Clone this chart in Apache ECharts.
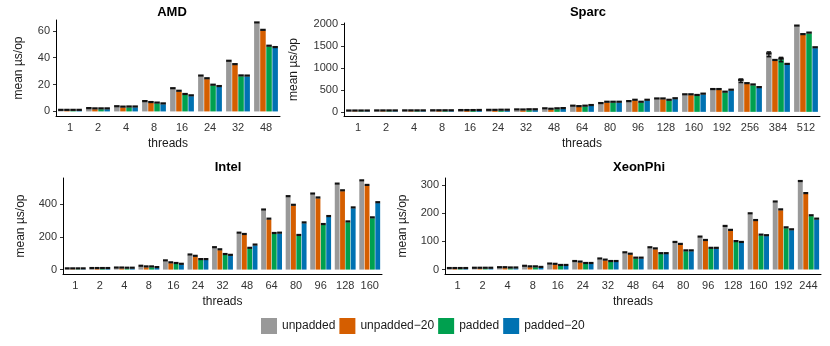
<!DOCTYPE html>
<html>
<head>
<meta charset="utf-8">
<title>Padding benchmark</title>
<script src="https://cdn.jsdelivr.net/npm/echarts@6/dist/echarts.min.js"></script>
<style>
  html, body { margin: 0; padding: 0; background: #fff; }
  #chart { width: 830px; height: 346px; }
</style>
</head>
<body>
<div id="chart"></div>
<script>
const seriesNames = ['unpadded', 'unpadded\u221220', 'padded', 'padded\u221220'];
const colors = ['#999999', '#D55E00', '#00A04F', '#0072B2'];

// AMD
const amdThreads = ['1', '2', '4', '8', '16', '24', '32', '48'];
const amdUnpadded = [0.5, 1.8, 3.2, 7.0, 16.6, 26.0, 37.0, 65.5];
const amdUnpadded20 = [0.5, 1.6, 2.9, 6.3, 14.7, 24.0, 34.5, 60.0];
const amdPadded = [0.5, 1.6, 3.0, 5.9, 12.3, 19.2, 26.1, 48.2];
const amdPadded20 = [0.5, 1.6, 3.0, 5.3, 11.3, 18.2, 26.0, 47.2];

// Sparc
const sparcThreads = ['1', '2', '4', '8', '16', '24', '32', '48', '64', '80', '96', '128', '160', '192', '256', '384', '512'];
const sparcUnpadded = [10, 12, 13, 15, 20, 25, 35, 60, 120, 180, 225, 285, 380, 500, 710, 1315, 1950];
const sparcUnpadded20 = [10, 12, 13, 15, 20, 25, 33, 50, 110, 210, 255, 285, 380, 500, 635, 1165, 1755];
const sparcPadded = [10, 12, 13, 15, 20, 28, 38, 60, 120, 210, 210, 255, 365, 440, 605, 1195, 1790];
const sparcPadded20 = [10, 12, 13, 15, 22, 28, 38, 65, 135, 210, 255, 290, 395, 485, 545, 1075, 1455];
const sparcErrUnpadded = [0, 0, 0, 0, 0, 0, 0, 0, 0, 0, 0, 0, 0, 0, 40, 55, 0];
const sparcErrPadded = [0, 0, 0, 0, 0, 0, 0, 0, 0, 0, 0, 0, 0, 0, 0, 50, 0];

// Intel
const intelThreads = ['1', '2', '4', '8', '16', '24', '32', '48', '64', '80', '96', '128', '160'];
const intelUnpadded = [2, 4, 7, 18, 51, 87, 132, 221, 363, 445, 461, 522, 542];
const intelUnpadded20 = [2, 4, 7, 14, 39, 79, 119, 213, 307, 392, 437, 481, 514];
const intelPadded = [2, 4, 6, 14, 35, 59, 90, 128, 219, 207, 274, 290, 315];
const intelPadded20 = [2, 4, 6, 10, 30, 59, 85, 148, 221, 284, 323, 376, 408];

// XeonPhi
const xeonThreads = ['1', '2', '4', '8', '16', '24', '32', '48', '64', '80', '96', '128', '160', '192', '244'];
const xeonUnpadded = [2, 3, 5, 10, 18, 27, 36, 58, 76, 95, 114, 152, 197, 239, 312];
const xeonUnpadded20 = [2, 3, 5, 8, 17, 25, 32, 53, 72, 88, 102, 138, 173, 211, 269];
const xeonPadded = [2, 3, 4, 8, 13, 20, 27, 39, 55, 65, 74, 98, 121, 147, 190];
const xeonPadded20 = [2, 3, 4, 6, 13, 20, 27, 39, 55, 65, 74, 95, 119, 140, 178];

const CAT_GAP = 0.15;
const BAR_GAP = 0.1;
const FONT = 'Liberation Sans';

const panels = [
  {
    title: 'AMD', titleX: 167, titleY: 1,
    grid: { left: 56, top: 20, width: 224, height: 96 },
    min: -3.4, max: 68, ticks: [0, 20, 40, 60], nameGap: 31,
    threads: amdThreads,
    values: [amdUnpadded, amdUnpadded20, amdPadded, amdPadded20],
    errors: []
  },
  {
    title: 'Sparc', titleX: 583, titleY: 1,
    grid: { left: 344, top: 23, width: 476, height: 93 },
    min: -95, max: 2030, ticks: [0, 500, 1000, 1500, 2000], nameGap: 44,
    threads: sparcThreads,
    values: [sparcUnpadded, sparcUnpadded20, sparcPadded, sparcPadded20],
    errors: [sparcErrUnpadded, null, sparcErrPadded, null]
  },
  {
    title: 'Intel', titleX: 223, titleY: 156,
    grid: { left: 63, top: 178, width: 319, height: 96 },
    min: -27, max: 562, ticks: [0, 200, 400], nameGap: 36,
    threads: intelThreads,
    values: [intelUnpadded, intelUnpadded20, intelPadded, intelPadded20],
    errors: []
  },
  {
    title: 'XeonPhi', titleX: 634, titleY: 156,
    grid: { left: 445, top: 178, width: 376, height: 96 },
    min: -16, max: 326, ticks: [0, 100, 200, 300], nameGap: 36,
    threads: xeonThreads,
    values: [xeonUnpadded, xeonUnpadded20, xeonPadded, xeonPadded20],
    errors: []
  }
];

// black cap at the top of every bar, plus whiskers where the error is visible
function renderCap(params, api) {
  const cat = api.value(0);
  const k = api.value(1);
  const v = api.value(2);
  const e = api.value(3);
  const catW = api.size([1, 0])[0];
  const groupW = catW * (1 - CAT_GAP);
  const barW = groupW / (4 + 3 * BAR_GAP);
  const cx = api.coord([cat, 0])[0];
  const x = cx - groupW / 2 + k * barW * (1 + BAR_GAP);
  const yMean = api.coord([cat, v])[1];
  const children = [{
    type: 'rect',
    shape: { x: x, y: yMean - 2, width: barW, height: 2.2 },
    style: { fill: '#111' }
  }];
  if (e > 0) {
    const yHi = api.coord([cat, v + e])[1];
    const yLo = api.coord([cat, v - e])[1];
    const mid = x + barW / 2;
    const half = barW * 0.4;
    const st = { stroke: '#111', lineWidth: 1.4 };
    children.push(
      { type: 'line', shape: { x1: mid, y1: yHi, x2: mid, y2: yLo }, style: st },
      { type: 'line', shape: { x1: mid - half, y1: yHi, x2: mid + half, y2: yHi }, style: st },
      { type: 'line', shape: { x1: mid - half, y1: yLo, x2: mid + half, y2: yLo }, style: st }
    );
  }
  return { type: 'group', children: children };
}

const titles = [];
const grids = [];
const xAxes = [];
const yAxes = [];
const series = [];

panels.forEach((p, i) => {
  titles.push({
    text: p.title, left: p.titleX, top: p.titleY, textAlign: 'center',
    textStyle: { fontFamily: FONT, fontSize: 13, fontWeight: 'bold', color: '#000' }
  });
  grids.push(p.grid);
  xAxes.push({
    type: 'category', gridIndex: i, data: p.threads,
    name: 'threads', nameLocation: 'middle', nameGap: 22,
    nameTextStyle: { fontFamily: FONT, fontSize: 12, color: '#1a1a1a' },
    axisLine: { onZero: false, lineStyle: { color: '#000', width: 1 } },
    axisTick: { alignWithLabel: true, length: 3, lineStyle: { color: '#333' } },
    axisLabel: { interval: 0, margin: 6, fontFamily: FONT, fontSize: 11, color: '#333' },
    splitLine: { show: false }
  });
  yAxes.push({
    type: 'value', gridIndex: i, min: p.min, max: p.max,
    name: 'mean \u00b5s/op', nameLocation: 'middle', nameGap: p.nameGap,
    nameTextStyle: { fontFamily: FONT, fontSize: 12, color: '#1a1a1a' },
    axisLine: { show: true, lineStyle: { color: '#000', width: 1 } },
    axisTick: { show: true, length: 3, customValues: p.ticks, lineStyle: { color: '#333' } },
    axisLabel: {
      customValues: p.ticks, margin: 6, fontFamily: FONT, fontSize: 11, color: '#333',
      formatter: v => String(v)
    },
    splitLine: { show: false }
  });
  const caps = [];
  p.values.forEach((vals, k) => {
    series.push({
      name: seriesNames[k], type: 'bar', xAxisIndex: i, yAxisIndex: i,
      data: vals, barCategoryGap: (CAT_GAP * 100) + '%', barGap: (BAR_GAP * 100) + '%',
      itemStyle: { color: colors[k] }
    });
    const errs = p.errors[k];
    vals.forEach((v, c) => caps.push([c, k, v, errs ? errs[c] : 0]));
  });
  series.push({
    name: 'error', type: 'custom', xAxisIndex: i, yAxisIndex: i, z: 3,
    renderItem: renderCap, encode: { x: 0, y: 2 }, data: caps, silent: true
  });
});

const chart = echarts.init(document.getElementById('chart'), null, { renderer: 'canvas' });
chart.setOption({
  animation: false,
  backgroundColor: '#fff',
  color: colors,
  textStyle: { fontFamily: FONT },
  title: titles,
  legend: {
    data: seriesNames, left: 261, top: 318, padding: 0,
    icon: 'rect', itemWidth: 16, itemHeight: 16, itemGap: 4,
    textStyle: { fontFamily: FONT, fontSize: 12, color: '#1a1a1a' }
  },
  grid: grids,
  xAxis: xAxes,
  yAxis: yAxes,
  series: series
});
</script>
</body>
</html>
